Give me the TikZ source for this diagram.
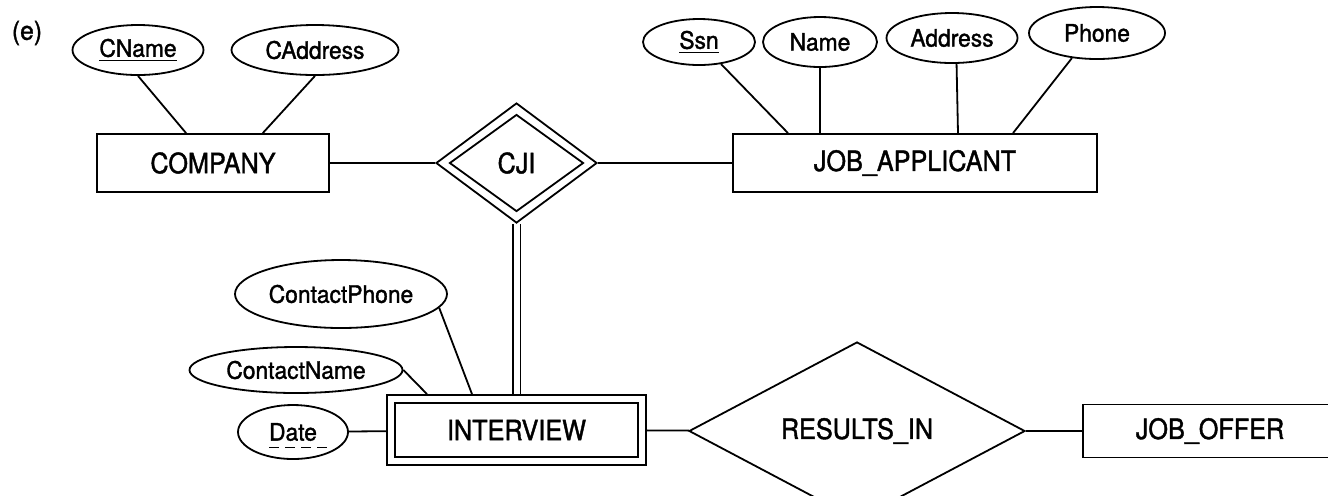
\documentclass[tikz,border=0pt]{standalone}
\usepackage{fontspec}
\setmainfont{TeX Gyre Heros}[FakeStretch=0.95, FakeBold=1.4]
\newfontfamily\entfont{TeX Gyre Heros}[FakeStretch=0.9, FakeBold=1.4]
\usepackage{tikz}
\usetikzlibrary{shapes.geometric}

\begin{document}
\begin{tikzpicture}[x=0.5pt, y=-0.5pt, line width=0.9pt,
  attr/.style={ellipse, draw, inner sep=0pt, font=\fontsize{12}{14}\selectfont},
  entity/.style={rectangle, draw, inner sep=0pt, font=\entfont\fontsize{14}{16}\selectfont},
  relship/.style={diamond, draw, inner sep=0pt, font=\entfont\fontsize{14}{16}\selectfont}]
  \useasboundingbox (0, 0) rectangle (1328, 495);

  \node[font=\fontsize{13}{15}\selectfont] (tag) at (27, 33) {(e)};

  % company and its attributes
  \node[entity, minimum width=116pt, minimum height=29pt] (company) at (213, 163) {COMPANY};
  \node[attr, minimum width=65.5pt, minimum height=25pt] (cname) at (138, 50) {\underline{CName}};
  \node[attr, minimum width=83.5pt, minimum height=25pt] (caddress) at (315, 50) {CAddress};
  \draw (cname.south) -- (company.132);
  \draw (caddress.south) -- (company.31);

  % identifying relationship (outer + inner diamond)
  \node[relship, minimum width=80.5pt, minimum height=60pt] (cji) at (516.5, 163) {CJI};
  \node[diamond, draw, inner sep=0pt, minimum width=67pt, minimum height=48.5pt] (cjiin) at (cji) {};

  % applicant and its attributes
  \node[entity, minimum width=182pt, minimum height=29pt] (japp) at (915, 163) {JOB\_APPLICANT};
  \node[attr, minimum width=56pt, minimum height=23pt] (ssn) at (699, 42) {\underline{Ssn}};
  \node[attr, minimum width=57pt, minimum height=25pt] (name) at (820, 42) {Name};
  \node[attr, minimum width=65.5pt, minimum height=25pt] (address) at (952, 38) {Address};
  \node[attr, minimum width=68pt, minimum height=26pt] (phone) at (1097, 33) {Phone};
  \draw (ssn.-45) -- ([xshift=-63.5pt]japp.north);
  \draw (name.south) -- ([xshift=-47.5pt]japp.north);
  \draw (address.-80) -- ([xshift=21.5pt]japp.north);
  \draw (phone.-135) -- ([xshift=49pt]japp.north);

  \draw (company) -- (cji);
  \draw (cji) -- (japp);

  % weak entity
  \node[entity, minimum width=129.5pt, minimum height=35pt] (interview) at (516.5, 430) {INTERVIEW};
  \node[rectangle, draw, minimum width=121.5pt, minimum height=27pt] (interin) at (interview) {};
  \node[attr, minimum width=106pt, minimum height=34pt] (cphone) at (341, 294) {ContactPhone};
  \node[attr, minimum width=106.5pt, minimum height=23pt] (ctname) at (296, 370) {ContactName};
  \node[attr, minimum width=55pt, minimum height=27pt] (date) at (293, 432) {Date};
  \draw[dash pattern=on 5pt off 3pt] ([yshift=-3.5pt]date.text) -- ++(58, 0);
  \draw (cphone.-8) -- ([xshift=-22.25pt]interview.north);
  \draw (ctname.east) -- ([xshift=-44.75pt]interview.north);
  \draw (date) -- (interview);
  \draw[double, double distance=3pt] (cji.south) -- (interview.north);

  % offer side
  \node[relship, minimum width=168pt, minimum height=65pt] (results) at (857, 431) {RESULTS\_IN};
  \node[entity, minimum width=127pt, minimum height=26.5pt] (joboffer) at (1210, 431) {JOB\_OFFER};
  \draw (interview) -- (results);
  \draw (results) -- (joboffer);
\end{tikzpicture}
\end{document}
